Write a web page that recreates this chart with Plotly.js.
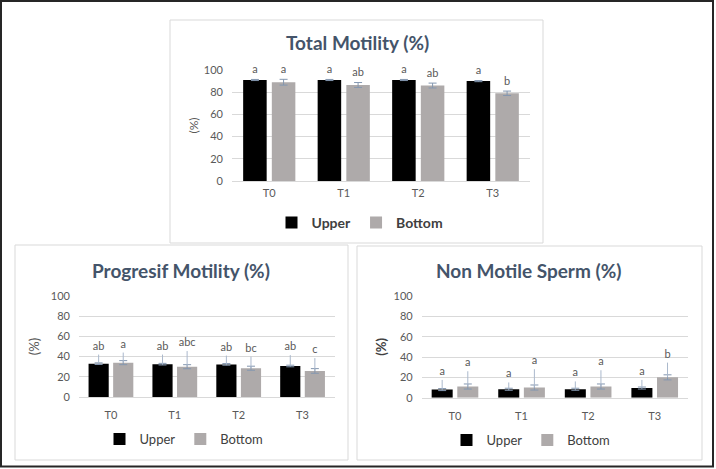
<!DOCTYPE html>
<html>
<head>
<meta charset="utf-8">
<script src="https://cdn.plot.ly/plotly-3.0.1.min.js"></script>
<style>
  html, body { margin: 0; padding: 0; background: #ffffff; }
  #chart { width: 716px; height: 469px; }
</style>
</head>
<body>
<div id="chart"></div>
<script>
// categories (x ticks)
const categories = ['T0', 'T1', 'T2', 'T3'];

// Total Motility (%)
const totalUpper = [91, 91, 91, 90];
const totalUpperErr = [0.5, 0.5, 0.5, 0.5];
const totalBottom = [89, 86.5, 86, 79];
const totalBottomErr = [2.6, 2.2, 2.2, 2];
const totalUpperLetters = ['a', 'a', 'a', 'a'];
const totalBottomLetters = ['a', 'ab', 'ab', 'b'];

// Progresif Motility (%)
const progUpper = [33, 32.5, 32.3, 30.7];
const progUpperErr = [0.8, 0.8, 0.8, 0.8];
const progBottom = [34, 30, 28.5, 25.8];
const progBottomErr = [2, 2, 2, 2.3];
const progUpperLead = [42, 42, 41, 41.5];
const progBottomLead = [44, 45.5, 40, 38.5];
const progUpperLetters = ['ab', 'ab', 'ab', 'ab'];
const progBottomLetters = ['a', 'abc', 'bc', 'c'];

// Non Motile Sperm (%)
const nonUpper = [8, 8.3, 8.3, 9.5];
const nonUpperErr = [1, 1, 1, 1];
const nonBottom = [11, 10, 11, 20];
const nonBottomErr = [2.5, 2.5, 2.5, 2.5];
const nonUpperLead = [17.5, 15, 16, 17.5];
const nonBottomLead = [26, 28, 27, 34.5];
const nonUpperLetters = ['a', 'a', 'a', 'a'];
const nonBottomLetters = ['a', 'a', 'a', 'b'];

const UPPER_COLOR = '#000000';
const BOTTOM_COLOR = '#AEAAAA';
const ERR_COLOR = '#8497B0';
const LEAD_COLOR = '#AAB8CC';
const TEXT_COLOR = '#595959';
const FONT = 'Lato, "Open Sans", sans-serif';

// builds the 4 traces of one panel: 2 bars + 2 invisible "label" bars
// label bars carry the letters (outside text) and the leader line
function panelTraces(n, legendId, upper, upperErr, bottom, bottomErr, upperLead, bottomLead, upperLetters, bottomLetters, showLead) {
    const xa = n === 1 ? 'x' : 'x' + n;
    const ya = n === 1 ? 'y' : 'y' + n;
    const traces = [];

    const series = [
        { name: 'Upper', y: upper, err: upperErr, lead: upperLead, letters: upperLetters, color: UPPER_COLOR, group: 'u' + n },
        { name: 'Bottom', y: bottom, err: bottomErr, lead: bottomLead, letters: bottomLetters, color: BOTTOM_COLOR, group: 'b' + n }
    ];

    series.forEach(s => {
        traces.push({
            type: 'bar',
            x: categories,
            y: s.y,
            name: s.name,
            xaxis: xa,
            yaxis: ya,
            offsetgroup: s.group,
            legend: legendId,
            marker: { color: s.color },
            error_y: {
                type: 'data',
                array: s.err,
                visible: true,
                color: ERR_COLOR,
                thickness: 1,
                width: 4
            }
        });
    });

    series.forEach(s => {
        traces.push({
            type: 'bar',
            x: categories,
            y: s.lead,
            xaxis: xa,
            yaxis: ya,
            offsetgroup: s.group,
            showlegend: false,
            marker: { color: 'rgba(0,0,0,0)' },
            text: s.letters,
            textposition: 'outside',
            constraintext: 'none',
            cliponaxis: false,
            textfont: { family: FONT, size: 11, color: TEXT_COLOR },
            error_y: {
                type: 'data',
                symmetric: false,
                array: s.lead.map(() => 0),
                arrayminus: s.lead.map((v, i) => v - s.y[i]),
                visible: showLead,
                color: LEAD_COLOR,
                thickness: 1,
                width: 0
            }
        });
    });

    return traces;
}

// top panel labels sit right on the error bar (no leader line)
const totalUpperLead = totalUpper.map((v, i) => v + totalUpperErr[i] + 1);
const totalBottomLead = totalBottom.map((v, i) => v + totalBottomErr[i] + 1);

const data = [].concat(
    panelTraces(1, 'legend', totalUpper, totalUpperErr, totalBottom, totalBottomErr,
        totalUpperLead, totalBottomLead, totalUpperLetters, totalBottomLetters, false),
    panelTraces(2, 'legend2', progUpper, progUpperErr, progBottom, progBottomErr,
        progUpperLead, progBottomLead, progUpperLetters, progBottomLetters, true),
    panelTraces(3, 'legend3', nonUpper, nonUpperErr, nonBottom, nonBottomErr,
        nonUpperLead, nonBottomLead, nonUpperLetters, nonBottomLetters, true)
);

const W = 716, H = 469;
const px = v => v / W;
const py = v => 1 - v / H;

function xAxis(domain, anchor, standoff) {
    return {
        domain: domain,
        anchor: anchor,
        type: 'category',
        showgrid: false,
        showline: true,
        linecolor: '#D9D9D9',
        linewidth: 1,
        ticks: '',
        ticklabelstandoff: standoff,
        tickfont: { family: FONT, size: 11, color: TEXT_COLOR },
        fixedrange: true
    };
}

function yAxis(domain, anchor, titleFont, titleStandoff) {
    return {
        domain: domain,
        anchor: anchor,
        range: [0, 100],
        dtick: 20,
        showgrid: true,
        gridcolor: '#D9D9D9',
        gridwidth: 1,
        zeroline: false,
        showline: false,
        ticks: '',
        ticklabelstandoff: 8,
        tickfont: { family: FONT, size: 11, color: TEXT_COLOR },
        title: { text: '(%)', font: titleFont, standoff: titleStandoff },
        fixedrange: true
    };
}

function legendAt(x, y, bold, size) {
    return {
        orientation: 'h',
        x: x,
        y: y,
        xanchor: 'center',
        yanchor: 'middle',
        bgcolor: 'rgba(0,0,0,0)',
        itemwidth: 30,
        font: { family: FONT, size: size, color: '#404040', weight: bold ? 'bold' : 'normal' }
    };
}

function titleAnn(text, x, y) {
    return {
        text: '<b>' + text + '</b>',
        xref: 'paper', yref: 'paper',
        x: px(x), y: py(y),
        xanchor: 'center', yanchor: 'middle',
        showarrow: false,
        font: { family: FONT, size: 19, color: '#44546A' }
    };
}

function box(x0, y0, x1, y1, color, width) {
    return {
        type: 'rect', xref: 'paper', yref: 'paper',
        x0: px(x0), x1: px(x1), y0: py(y0), y1: py(y1),
        line: { color: color, width: width },
        fillcolor: 'rgba(0,0,0,0)',
        layer: 'below'
    };
}

const layout = {
    width: W,
    height: H,
    margin: { l: 0, r: 0, t: 0, b: 0 },
    paper_bgcolor: '#ffffff',
    plot_bgcolor: '#ffffff',
    barmode: 'group',
    bargap: 0.23,
    bargroupgap: 0.18,
    hovermode: false,
    font: { family: FONT, color: TEXT_COLOR },

    xaxis: xAxis([px(232), px(530)], 'y', 2),
    yaxis: yAxis([py(181), py(70)], 'x', { family: FONT, size: 12, color: TEXT_COLOR }, 2),
    xaxis2: xAxis([px(79), px(334.5)], 'y2', 8),
    yaxis2: yAxis([py(397), py(296)], 'x2', { family: FONT, size: 13, color: TEXT_COLOR }, 8),
    xaxis3: xAxis([px(421.7), px(688)], 'y3', 8),
    yaxis3: yAxis([py(397.7), py(296)], 'x3', { family: FONT, size: 13, color: '#404040', weight: 'bold' }, 4),

    legend: legendAt(px(360), py(223), true, 14),
    legend2: legendAt(px(184), py(439), false, 13),
    legend3: legendAt(px(531), py(440), false, 13),

    annotations: [
        titleAnn('Total Motility (%)', 357, 43),
        titleAnn('Progresif Motility (%)', 181, 270),
        titleAnn('Non Motile Sperm (%)', 529, 270)
    ],

    shapes: [
        box(170, 20, 543, 243, '#D9D9D9', 1),
        box(15, 245, 348, 460, '#D9D9D9', 1),
        box(357, 246, 702, 460, '#D9D9D9', 1),
        box(1, 1, 713, 466.5, '#262626', 2)
    ]
};

Plotly.newPlot('chart', data, layout, { displayModeBar: false, staticPlot: true });
</script>
</body>
</html>
